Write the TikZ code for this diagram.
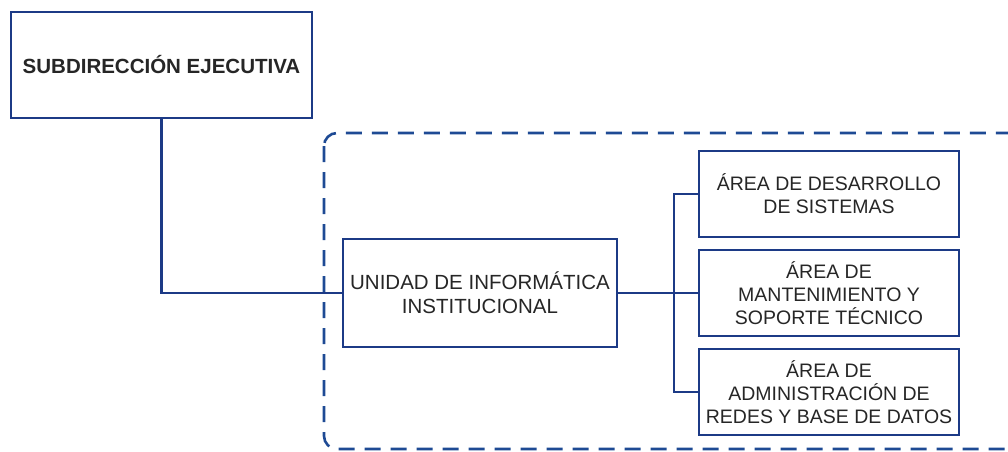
\documentclass[tikz,border=0pt]{standalone}
\usepackage{fontspec}
\setmainfont{Liberation Sans}
\begin{document}
\begin{tikzpicture}[x=1pt,y=-1pt,
  orgbox/.style={draw=lineblue, line width=2.4pt, fill=white, inner sep=0pt, align=center,
     text=black!85, font=\fontsize{19.5}{23}\selectfont},
  conn/.style={draw=lineblue, line width=2.3pt},
]
\definecolor{lineblue}{HTML}{1C3A86}
\definecolor{dashblue}{HTML}{1E4A94}
\useasboundingbox (0,0) rectangle (1008,451);
\fill[white] (0,0) rectangle (1008,451);
% dashed group frame
\draw[dashblue, line width=2.6pt, dash pattern=on 16pt off 10pt, rounded corners=13pt]
  (324,133) rectangle (1030,449);
% boxes
\node[orgbox, minimum width=301pt, minimum height=106pt, font=\bfseries\fontsize{20.5}{24}\selectfont]
  (sub) at (161.5,65) {SUBDIRECCIÓN EJECUTIVA};
\node[orgbox, minimum width=274pt, minimum height=108pt, font=\fontsize{20.5}{24}\selectfont] (uni) at (480,293)
  {UNIDAD DE INFORMÁTICA\\INSTITUCIONAL};
\node[orgbox, minimum width=260pt, minimum height=86pt] (b1) at (829,194)
  {ÁREA DE DESARROLLO\\DE SISTEMAS};
\node[orgbox, minimum width=260pt, minimum height=86pt] (b2) at (829,293)
  {ÁREA DE\\MANTENIMIENTO Y\\SOPORTE TÉCNICO};
\node[orgbox, minimum width=260pt, minimum height=86pt] (b3) at (829,392)
  {ÁREA DE\\ADMINISTRACIÓN DE\\REDES Y BASE DE DATOS};
% connectors
\coordinate (j) at (674,293);
\draw[conn] (sub.south) |- (uni.west);
\draw[conn] (uni.east) -- (j);
\draw[conn] (b1.west) -| (j);
\draw[conn] (b3.west) -| (j);
\draw[conn] (b2.west) -- (j);
\end{tikzpicture}
\end{document}
